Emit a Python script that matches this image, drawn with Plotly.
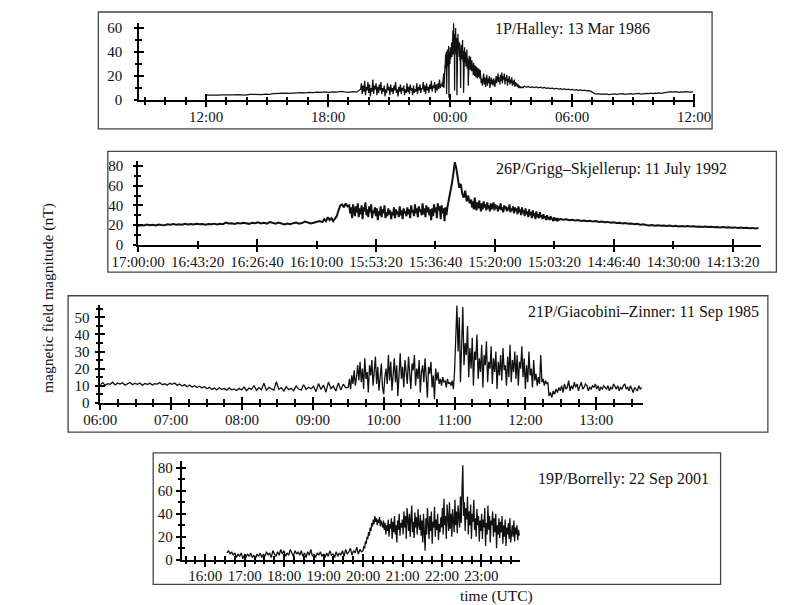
import numpy as np
import plotly.graph_objects as go

# ---------------- DATA ----------------
# Panel 1: 1P/Halley (time in hours after 12:00, 13 Mar 1986)
halley_spans = [(0.0, 7.6), (7.6, 11.6), (11.6, 13.5), (13.5, 15.65), (15.65, 24.05)]
halley_seg1 = [4.2,4.0,4.3,4.1,4.4,4.2,4.5,4.3,4.6,4.4,4.2,4.7,4.5,4.8,4.6,5.0,4.8,5.3,5.6,5.4,5.8,5.6,6.0,5.8,6.2,6.0,6.4,6.1,6.6,6.3,6.8,6.5,6.9,6.6,7.2,6.8,6.5,7.0,6.6]
halley_seg2 = [9,14,5,12,7,16,4,11,8,15,6,13,3,10,7,17,5,12,9,14,4,11,6,13,8,15,5,10,7,12,3,9,6,14,8,11,4,13,7,10,5,12,8,15,6,9,3,11,7,13,5,10,8,12,4,9,6,14,7,11,5,13,8,10,4,12,6,9,7,14,5,11,8,13,6,10,9,15,7,12,5,14,8,11,6,13,9,16,7,12,10,15,6,13,8,14,9,17,10,13]
halley_seg3 = [12,15,11,18,14,22,10,25,19,28,
               30,38,26,40,5,35,42,28,39,33,45,2,36,40,30,44,34,38,
               40,48,36,52,44,58,38,64,46,55,8,50,42,60,45,38,52,4,47,40,55,43,49,
               44,36,48,33,42,10,40,46,34,43,38,50,32,41,6,39,35,44,31,40,
               36,28,38,30,42,26,35,32,12,34,27,37,30,33,25,36,29,31,24,33,
               30,24,28,21,31,23,27,20,29,22,26,19,28,21,25,18,27,20,24,19,26,21,23,18,25]
halley_seg4 = [20,14,18,12,17,22,13,19,11,16,21,12,18,14,20,10,15,19,13,17,12,18,15,11,16,20,14,18,22,15,19,13,21,16,23,14,20,17,22,13,19,16,21,12,18,15,20,13,17,14,19,12,16,13,17,11,15,12,14,11,13,10,12,11,10,11,10,11,10,11]
halley_seg5 = [11.5,10.8,11.2,10.6,11.0,10.4,10.9,10.2,10.7,10.0,10.5,9.8,10.2,9.6,10.0,9.3,9.8,9.1,9.5,8.9,9.3,8.7,9.0,8.4,8.8,8.2,8.6,8.0,8.4,7.8,8.2,7.6,7.9,7.4,6.2,5.4,5.0,5.3,4.8,5.2,4.7,5.1,4.6,5.0,4.8,5.2,4.7,5.1,4.9,5.3,4.8,5.2,5.0,5.4,4.9,5.3,5.1,5.5,5.0,5.4,5.2,5.6,5.3,5.7,5.4,5.8,5.5,5.9,5.6,6.0,6.4,6.8,6.6,7.0,6.7,7.1,6.8,6.5,6.9,6.6,7.0,6.7,6.9,6.6,6.8]
halley_xticks = [0, 6, 12, 18, 24]
halley_xlabels = ["12:00", "18:00", "00:00", "06:00", "12:00"]

# Panel 2: 26P/Grigg-Skjellerup (seconds before 17:00:00, 11 July 1992)
gs_spans = [(0, 3100), (3100, 3550), (3550, 5200), (5200, 5600), (5600, 7100), (7100, 10480)]
gs_seg1 = [19,20,19.5,20.5,19.8,20.3,19.6,20.6,20,19.7,20.8,20.2,21,20.4,20.9,20.3,21.2,20.6,21,20.5,21.3,20.7,21.1,20.4,21,20.8,21.4,20.6,21.2,20.9,22.5,21.5,21.8,21.2,22,21.5,22.3,21.7,21.2,22.4,21.8,22.8,21.6,22.2,21.5,23,22,21.3,22.6,21.8,20.6,21.5,20.8,21.9,22.5,21.3,22,23.5,22.3,21.6,22.4,23,24]
gs_seg2 = [23,26,24,28,25,27,24,26,29,35,40,41,38,42,39]
gs_seg3 = [40,32,38,27,41,35,29,39,33,42,28,37,31,40,26,38,34,43,30,36,28,39,33,41,27,35,32,38,29,37,25,34,30,39,28,36,32,40,27,33,29,37,31,35,26,33,30,38,27,36,31,34,28,39,30,35,26,37,32,34,29,38,31,36,27,40,33,35,29,41,32,37,28,39,34,36,30,42,31,37,28,40,33,38,30,36,25,37,29,41,33,38,27,42,35,39,26,40,32,37,24,38,30]
gs_seg4 = [38,45,55,62,72,84,78,70,58,62,52,48,55,44,50,42]
gs_seg5 = [46,38,44,36,48,40,35,43,37,45,39,34,42,36,44,38,41,35,43,37,40,34,42,36,39,43,35,41,37,40,34,39,36,42,35,38,33,40,36,39,34,38,35,41,33,37,35,39,32,38,34,37,31,39,33,36,30,38,32,35,29,37,31,34,28,36,30,33,27,35,29,32,26,34,28,31,27,33,28,30,26,31,27,29,25,30,26,28,25,29,26,27,24,28,25,26,24,27,25,26]
gs_seg6 = [26,25.3,25.8,24.9,25.4,24.6,25,24.2,24.7,23.9,24.3,23.5,24,23.2,23.6,22.8,23.2,22.4,22.8,22,22.3,21.6,22,21.3,21.6,20.9,21.2,20.4,20.8,20.1,19.6,20.1,19.4,19.8,19.2,19.6,19,19.4,18.8,19.2,18.6,19,18.5,18.9,18.4,18.8,18.2,18.6,18,18.4,17.9,18.2,17.7,18.1,17.5,17.9,17.4,17.7,17.2,17.6,17.1,17.4,16.9,17.3,16.8,17.1,16.6,16.9]
gs_xticks = [0, 1000, 2000, 3000, 4000, 5000, 6000, 7000, 8000, 9000, 10000]
gs_xlabels = ["17:00:00", "16:43:20", "16:26:40", "16:10:00", "15:53:20", "15:36:40",
              "15:20:00", "15:03:20", "14:46:40", "14:30:00", "14:13:20"]

# Panel 3: 21P/Giacobini-Zinner (hours UTC, 11 Sep 1985)
gz_spans = [(6.0, 9.5), (9.5, 12.333), (12.333, 13.66)]
gz_seg1 = [10.5,11.8,10.2,11.2,10.8,12,10.4,11.5,10.9,11.7,10.3,11.1,11.9,10.6,11.4,10.8,11.6,10.2,11.3,10.7,11.5,10.4,11.2,10.9,11.8,10.5,11.1,10.3,11.4,
           10.8,11.6,10.2,11.0,9.8,10.6,9.4,10.3,9.2,10.0,8.9,9.7,8.6,9.5,
           8.2,9.0,7.8,8.6,7.5,8.8,7.9,8.3,7.4,8.7,7.6,8.1,7.2,8.4,
           7.5,9.2,7.0,8.6,7.8,10.1,7.3,8.9,7.6,11.5,7.2,9.0,8.1,7.4,12.3,7.9,8.8,6.8,9.4,7.7,8.5,7.1,9.8,8.0,7.4,10.5,7.8,9.1,8.2,
           9.6,6.5,11.2,7.8,10.4,6.2,12.1,8.3,9.7,6.9,11.6,7.5,10.9,8.8]
gz_seg2 = [9,14,8,16,11,19,10,15,22,13,
           24,12,20,8,26,14,18,6,22,16,25,10,19,27,11,21,7,17,23,9,
           5,15,20,11,28,13,24,7,19,26,12,22,4,17,29,14,21,9,25,18,
           11,27,16,8,23,19,28,10,20,14,25,6,18,22,12,26,15,3,21,17,
           24,9,16,2,20,13,18,11,14,10,15,12,13,9,14,11,12,10,13,8,
           18,42,57,30,50,12,38,56,22,35,
           28,45,15,32,20,38,10,30,25,40,14,26,18,34,9,28,22,36,12,24,
           20,33,11,26,18,30,8,24,16,28,13,32,19,22,10,27,15,34,12,25,
           18,30,14,28,10,24,20,33,15,26,8,22,12,30,16,20,9,25,13,17,10,15,11,28,12,14,10,13,11,12]
gz_seg3 = [4,6,3,7,5,8,6,9,7,10,6,11,8,9,13,7,10,8,12,9,11,7,10,12,8,9,11,10,7,9,8,10,9,11,8,10,7,9,8,10,9,8,10,7,9,8,11,9,8,10,7,9,8,10,11,8,9,7,10,8,6,9,8,7,10,8,9]
gz_xticks = [6, 7, 8, 9, 10, 11, 12, 13]
gz_xlabels = ["06:00", "07:00", "08:00", "09:00", "10:00", "11:00", "12:00", "13:00"]

# Panel 4: 19P/Borrelly (hours UTC, 22 Sep 2001)
bo_spans = [(16.55, 20.0), (20.0, 23.98)]
bo_seg1 = [6,8,5,7,4,6,2,5,3,6,1,4,2,5,3,6,2,4,1,5,3,6,
           2,5,3,7,4,6,2,8,5,3,7,4,9,5,8,3,6,4,9,6,3,8,5,7,4,
           8,3,6,2,7,4,9,3,5,2,6,4,7,3,5,2,6,3,8,4,5,2,7,3,6,
           4,8,3,9,5,7,10,4,8,6,11,5,9,7]
bo_seg2 = [8,12,10,16,14,20,18,24,21,28,25,32,29,35,31,38,33,36,30,35,32,37,29,34,31,
           28,34,26,32,22,30,25,35,20,31,27,36,18,33,24,38,22,30,15,34,26,40,21,32,28,
           35,22,42,28,38,18,45,30,25,40,20,36,47,24,33,19,41,28,37,22,44,30,26,39,21,
           34,15,40,27,8,36,22,45,30,18,38,25,42,14,33,28,46,20,35,26,40,17,31,24,37,
           28,45,22,53,30,38,18,48,33,25,50,27,40,20,44,35,24,52,30,42,23,47,34,28,55,
           32,60,82,38,50,25,45,35,55,22,42,30,48,18,40,33,52,26,36,20,44,30,38,16,34,
           25,40,18,35,28,45,12,32,22,47,26,38,15,34,30,42,20,36,24,40,10,30,22,36,19,
           33,24,38,14,30,20,35,12,28,22,32,18,36,15,26,30,20,34,16,28,22,30,17,26,21]
bo_xticks = [16, 17, 18, 19, 20, 21, 22, 23]
bo_xlabels = ["16:00", "17:00", "18:00", "19:00", "20:00", "21:00", "22:00", "23:00"]

titles = ["1P/Halley: 13 Mar 1986", "26P/Grigg\u2013Skjellerup: 11 July 1992",
          "21P/Giacobini\u2013Zinner: 11 Sep 1985", "19P/Borrelly: 22 Sep 2001"]
y_title = "magnetic field magnitude (nT)"
x_title = "time (UTC)"

# ---------------- LAYOUT HELPERS ----------------
W, H = 791, 605
FONT = "Liberation Serif, Times New Roman, serif"


def pxx(x):
    return x / W


def pxy(y):
    return 1 - y / H


def series(spans, segs):
    xs, ys = [], []
    for (t0, t1), vals in zip(spans, segs):
        xs.extend(np.linspace(t0, t1, len(vals), endpoint=False).tolist())
        ys.extend(vals)
    return xs, ys


fig = go.Figure()
counter = {"x": 4, "y": 4}


def ref(letter, n):
    return letter if n == 1 else f"{letter}{n}"


def key(letter, n):
    return f"{letter}axis" if n == 1 else f"{letter}axis{n}"


def tick_overlays(letter, base_n, other, rng, major_vals, major_len, minor_vals, minor_len):
    for direction in ("inside", "outside"):
        counter[letter] += 1
        n = counter[letter]
        cfg = dict(overlaying=ref(letter, base_n), anchor=other, range=rng,
                   showgrid=False, zeroline=False, showline=False, showticklabels=False,
                   tickmode="array", tickvals=major_vals, ticks=direction,
                   ticklen=major_len, tickwidth=1.5, tickcolor="black",
                   minor=dict(tickmode="array", tickvals=minor_vals, ticks=direction,
                              ticklen=minor_len, tickwidth=1.5, tickcolor="black", showgrid=False),
                   fixedrange=True)
        if letter == "y":
            cfg["side"] = "left"
        fig.update_layout({key(letter, n): cfg})
        # empty carrier trace so that the overlay axis is drawn
        if letter == "x":
            xa, ya = ref("x", n), other
        else:
            xa, ya = other, ref("y", n)
        fig.add_trace(go.Scatter(x=[None], y=[None], mode="lines", xaxis=xa, yaxis=ya,
                                 showlegend=False, hoverinfo="skip"))


panels = [
    dict(spans=halley_spans, segs=[halley_seg1, halley_seg2, halley_seg3, halley_seg4, halley_seg5],
         xdom=(110, 698), ydom=(90.7, 12), xr=[-3.30, 24.05], yr=[0, 64.4],
         xlab=halley_xticks, xtxt=halley_xlabels,
         xmaj=halley_xticks, xmin=[h for h in range(-3, 24) if h % 6 != 0],
         ylab=[0, 20, 40, 60], ymin=[10, 30, 50], lw=1.25,
         box=(67, 1, 716, 120), title_xy=(568, 18), xstand=2, ystand=12),
    dict(spans=gs_spans, segs=[gs_seg1, gs_seg2, gs_seg3, gs_seg4, gs_seg5, gs_seg6],
         xdom=(109, 768), ydom=(238, 153), xr=[0, 10477], yr=[0, 85],
         xlab=gs_xticks, xtxt=gs_xlabels,
         xmaj=[0, 2000, 4000, 6000, 8000, 10000], xmin=[1000, 3000, 5000, 7000, 9000],
         ylab=[0, 20, 40, 60, 80], ymin=[10, 30, 50, 70], lw=2.0,
         box=(77, 143, 784, 266), title_xy=(610, 161), xstand=3, ystand=10),
    dict(spans=gz_spans, segs=[gz_seg1, gz_seg2, gz_seg3],
         xdom=(69, 643), ydom=(399, 299), xr=[6.0, 13.66], yr=[0, 57.5],
         xlab=gz_xticks, xtxt=gz_xlabels,
         xmaj=gz_xticks, xmin=[6 + q / 4 for q in range(31) if q % 4 != 0],
         ylab=[0, 10, 20, 30, 40, 50], ymin=[5, 15, 25, 35, 45, 55], lw=1.3,
         box=(35, 290, 775, 429), title_xy=(643, 307), xstand=2, ystand=6),
    dict(spans=bo_spans, segs=[bo_seg1, bo_seg2],
         xdom=(155, 513), ydom=(559, 458), xr=[15.40, 23.98], yr=[0, 86],
         xlab=bo_xticks, xtxt=bo_xlabels,
         xmaj=bo_xticks, xmin=[15.5 + q / 4 for q in range(34) if (q + 2) % 4 != 0],
         ylab=[0, 20, 40, 60, 80], ymin=[10, 30, 50, 70], lw=1.3,
         box=(125, 450, 725, 584), title_xy=(622, 477), xstand=1, ystand=4),
]

shapes, annotations = [], []
for i, p in enumerate(panels, start=1):
    xs, ys = series(p["spans"], p["segs"])
    fig.add_trace(go.Scatter(x=xs, y=ys, mode="lines", xaxis=ref("x", i), yaxis=ref("y", i),
                             line=dict(color="#111111", width=p["lw"]), hoverinfo="skip",
                             showlegend=False))
    tickfont = dict(family=FONT, size=15, color="#111111")
    fig.update_layout({
        key("x", i): dict(domain=[pxx(p["xdom"][0]), pxx(p["xdom"][1])], anchor=ref("y", i),
                          range=p["xr"], showline=True, linecolor="black", linewidth=1.6,
                          showgrid=False, zeroline=False, ticks="", ticklen=0, tickmode="array",
                          tickvals=p["xlab"], ticktext=p["xtxt"], tickfont=tickfont,
                          ticklabelstandoff=p["xstand"], fixedrange=True),
        key("y", i): dict(domain=[pxy(p["ydom"][0]), pxy(p["ydom"][1])], anchor=ref("x", i),
                          range=p["yr"], showline=True, linecolor="black", linewidth=1.6,
                          showgrid=False, zeroline=False, ticks="", ticklen=0, tickmode="array",
                          tickvals=p["ylab"], tickfont=tickfont,
                          ticklabelstandoff=p["ystand"], fixedrange=True),
    })
    tick_overlays("x", i, ref("y", i), p["xr"], p["xmaj"], 6, p["xmin"], 3.5)
    tick_overlays("y", i, ref("x", i), p["yr"], p["ylab"], 4.5, p["ymin"], 3)
    x0, y0, x1, y1 = p["box"]
    shapes.append(dict(type="rect", xref="paper", yref="paper",
                       x0=pxx(x0), x1=pxx(x1), y0=pxy(y1), y1=pxy(y0),
                       line=dict(color="#444444", width=1.3), layer="below"))
    annotations.append(dict(text=titles[i - 1], xref="paper", yref="paper",
                            x=pxx(p["title_xy"][0]), y=pxy(p["title_xy"][1]),
                            xanchor="center", yanchor="middle", showarrow=False,
                            font=dict(family=FONT, size=16, color="#111111")))

annotations.append(dict(text=y_title, xref="paper", yref="paper", x=pxx(13), y=pxy(292),
                        xanchor="center", yanchor="middle", textangle=-90, showarrow=False,
                        font=dict(family=FONT, size=15.5, color="#111111")))
annotations.append(dict(text=x_title, xref="paper", yref="paper", x=pxx(488), y=pxy(596),
                        xanchor="center", yanchor="middle", showarrow=False,
                        font=dict(family=FONT, size=15.5, color="#111111")))

fig.update_layout(width=W, height=H, margin=dict(l=0, r=0, t=0, b=0),
                  paper_bgcolor="white", plot_bgcolor="white",
                  shapes=shapes, annotations=annotations, showlegend=False)

fig.write_html("out.html")
